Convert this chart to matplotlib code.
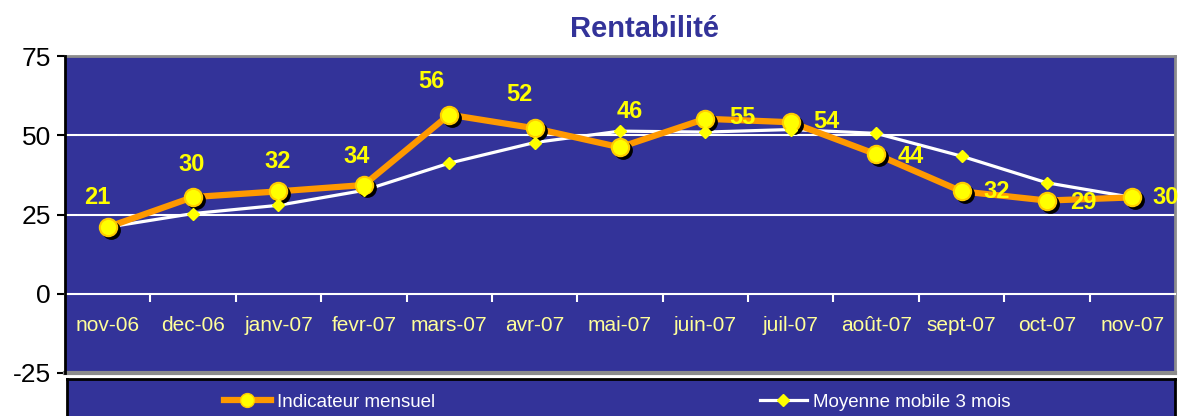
import matplotlib
matplotlib.use("Agg")
import matplotlib.pyplot as plt
from matplotlib.lines import Line2D
import matplotlib.transforms as mtransforms

plt.rcParams['font.family'] = ['Liberation Sans', 'DejaVu Sans']

months = ["nov-06", "dec-06", "janv-07", "fevr-07", "mars-07", "avr-07", "mai-07",
          "juin-07", "juil-07", "août-07", "sept-07", "oct-07", "nov-07"]
mensuel = [21, 30.5, 32.3, 34.3, 56.5, 52.2, 46.2, 55.2, 54.1, 44, 32.3, 29.4, 30.4]
mensuel_labels = ["21", "30", "32", "34", "56", "52", "46", "55", "54", "44", "32", "29", "30"]
moyenne = [21, 25.3, 27.9, 32.6, 41.2, 47.7, 51.3, 51.0, 51.8, 50.6, 43.4, 35.0, 30.4]
label_offsets = [(-10, 30), (-1, 33), (-1, 30), (-7, 29), (-18, 33), (-15, 34), (10, 36),
                 (37, 1), (36, 1), (35, -2), (35, 0), (36, -2), (33, 0)]
yticks = [-25, 0, 25, 50, 75]

BG = "#333399"
ORANGE = "#FF9900"
YELLOW = "#FFFF00"

W, H = 1185, 416
fig = plt.figure(figsize=(W / 100, H / 100), dpi=100)

ax = fig.add_axes([65 / W, 1 - 373 / H, 1110 / W, (373 - 56) / H])
ax.set_facecolor(BG)
ax.set_xlim(-0.5, len(months) - 0.5)
ax.set_ylim(-25, 75)

for y in [25, 50]:
    ax.axhline(y, color="white", lw=1.5, zorder=1)

for s in ["top", "right"]:
    ax.spines[s].set_color("#8c8c8c")
    ax.spines[s].set_linewidth(2)
ax.spines["bottom"].set_position(("data", 0))
ax.spines["bottom"].set_color("white")
ax.spines["bottom"].set_linewidth(1.5)
ax.axhline(-25, color="#8c8c8c", lw=3, zorder=5, clip_on=False)
ax.spines["left"].set_color("black")
ax.spines["left"].set_linewidth(2)
ax.spines["left"].set_zorder(6)

x = list(range(len(months)))
ax.set_yticks(yticks)
ax.set_yticklabels([str(v) for v in yticks], fontsize=19, color="black")
ax.tick_params(axis="y", direction="out", length=6, width=1.5, color="black", pad=4)

ax.set_xticks(x)
ax.set_xticklabels(months, fontsize=15, color="#FFFF99")
ax.tick_params(axis="x", which="major", length=0, pad=16)
ax.set_xticks([i + 0.5 for i in x[:-1]] + [-0.5], minor=True)
ax.tick_params(axis="x", which="minor", direction="out", length=6, width=1.5, color="white")

ax.plot(x, moyenne, color="white", lw=2.3, zorder=3)
ax.plot(x, mensuel, color=ORANGE, lw=4.5, zorder=4)

shadow = mtransforms.offset_copy(ax.transData, fig=fig, x=3, y=-3, units="dots")
ax.plot(x, mensuel, ls="none", marker="o", ms=12.5, color="black", transform=shadow, zorder=5)
ax.plot(x, mensuel, ls="none", marker="o", ms=12.5, mfc=YELLOW, mec="#FFCC00", mew=1.5, zorder=6)
ax.plot(x, moyenne, ls="none", marker="D", ms=6, mfc=YELLOW, mec=YELLOW, zorder=7)

for xi, yi, lab, off in zip(x, mensuel, mensuel_labels, label_offsets):
    ax.annotate(lab, (xi, yi), xytext=off, textcoords="offset pixels",
                ha="center", va="center", fontsize=17, fontweight="bold",
                color=YELLOW, zorder=8, annotation_clip=False)

fig.text(645 / W, 1 - 29 / H, "Rentabilité", ha="center", va="center",
         fontsize=21, fontweight="bold", color=BG)

lax = fig.add_axes([67 / W, -0.1, 1108 / W, (416 - 379) / H + 0.1])
lax.set_facecolor(BG)
lax.set_xticks([])
lax.set_yticks([])
for s in lax.spines.values():
    s.set_color("black")
    s.set_linewidth(2)

h1 = Line2D([], [], color=ORANGE, lw=4.5, marker="o", ms=10, mfc=YELLOW, mec="#FFCC00")
h2 = Line2D([], [], color="white", lw=2.3, marker="D", ms=6, mfc=YELLOW, mec=YELLOW)
fig.legend(handles=[h1], labels=["Indicateur mensuel"], loc="center left",
           bbox_to_anchor=(207 / W, 1 - 402 / H), frameon=False, fontsize=13.5,
           labelcolor="white", handlelength=2.5, handletextpad=0.35)
fig.legend(handles=[h2], labels=["Moyenne mobile 3 mois"], loc="center left",
           bbox_to_anchor=(743 / W, 1 - 402 / H), frameon=False, fontsize=13.5,
           labelcolor="white", handlelength=2.5, handletextpad=0.35)

fig.savefig("out.png", dpi=100)
